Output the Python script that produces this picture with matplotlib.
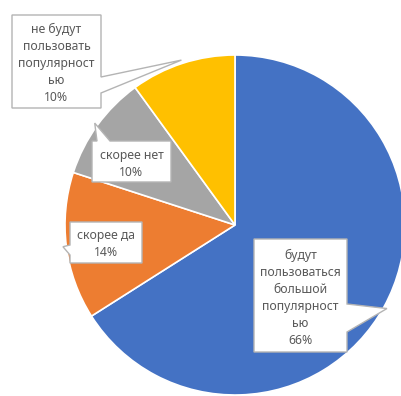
import numpy as np
import matplotlib.pyplot as plt
from matplotlib.patches import Polygon

plt.rcParams['font.family'] = ['Noto Sans', 'DejaVu Sans']

# доли ответов (по часовой стрелке от 12 часов)
labels = ['будут\nпользоваться\nбольшой\nпопулярност\nью',
          'скорее да',
          'скорее нет',
          'не будут\nпользовать\nпопулярност\nью']
shares = [66, 14, 10, 10]
colors = ['#4472C4', '#ED7D31', '#A5A5A5', '#FFC000']

W, H = 401, 396
cx, cy, R = 235, H - 225, 170

# рамки подписей в пикселях (x0, y0 сверху, x1, y1) и основание выноски
boxes = [
    ((254, 239, 347, 352), 'right', (304, 332)),
    ((70, 222, 142, 263), 'left', (245, 255)),
    ((92, 141, 171, 182), 'top', (97, 110)),
    ((12, 15, 101, 108), 'right', (77, 93)),
]

fig = plt.figure(figsize=(W / 100, H / 100), dpi=100)
ax = fig.add_axes([0, 0, 1, 1])

wedges, _ = ax.pie(shares, colors=colors, startangle=90, counterclock=False,
                   center=(cx, cy), radius=R,
                   wedgeprops=dict(edgecolor='white', linewidth=1.2))
ax.set_xlim(0, W)
ax.set_ylim(0, H)
ax.set_aspect('equal')
ax.axis('off')

for w, lab, val, (box, side, base) in zip(wedges, labels, shares, boxes):
    mid = np.deg2rad((w.theta1 + w.theta2) / 2)
    tip = (cx + 1.02 * R * np.cos(mid), cy + 1.02 * R * np.sin(mid))
    x0, y0, x1, y1 = box
    y0, y1 = H - y0, H - y1
    b0, b1 = base
    if side == 'right':
        pts = [(x0, y0), (x1, y0), (x1, H - b0), tip, (x1, H - b1),
               (x1, y1), (x0, y1)]
    elif side == 'left':
        pts = [(x0, y0), (x1, y0), (x1, y1), (x0, y1), (x0, H - b1),
               tip, (x0, H - b0)]
    else:
        pts = [(x0, y0), (b0, y0), tip, (b1, y0), (x1, y0),
               (x1, y1), (x0, y1)]
    ax.add_patch(Polygon(pts, closed=True, facecolor='white',
                         edgecolor='#B4B4B4', linewidth=1.0, zorder=3))
    ax.text((x0 + x1) / 2, (y0 + y1) / 2 - 2, f'{lab}\n{val}%',
            ha='center', va='center', multialignment='center',
            fontsize=8.8, color='#595959', linespacing=1.4, zorder=4)

fig.savefig('out.png', dpi=100)
